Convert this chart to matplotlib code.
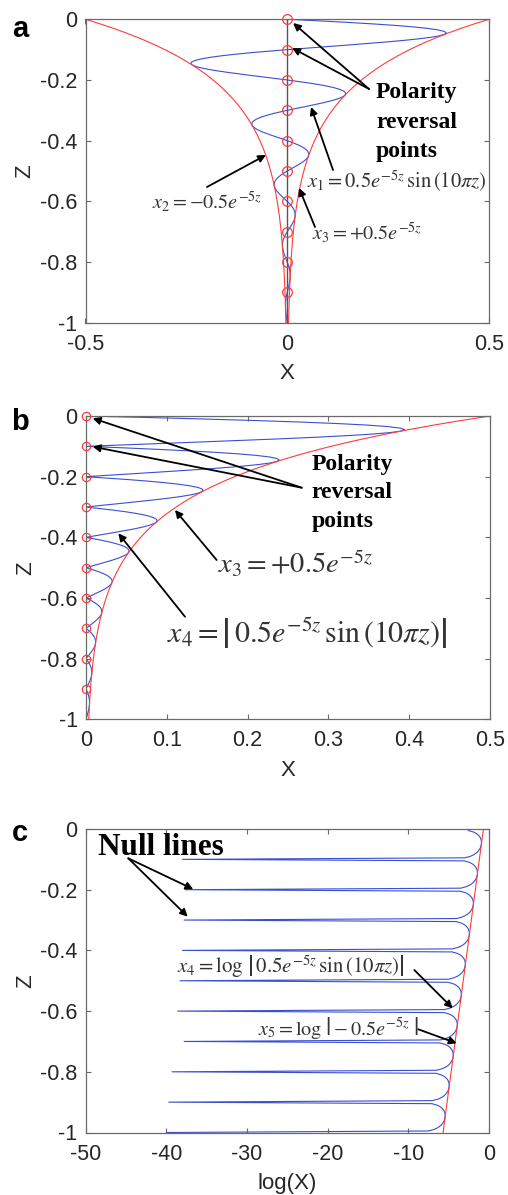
import numpy as np
import matplotlib
matplotlib.use('Agg')
import matplotlib.pyplot as plt

plt.rcParams['font.family'] = ['Liberation Sans', 'DejaVu Sans']
plt.rcParams['mathtext.fontset'] = 'stix'

# ---- values ----
amplitude = 0.5          # envelope value at z = 0
decay = 5.0              # exponent factor in e^{-5z}
wavenumber = 10 * np.pi  # sin(10*pi*z)
depth_step = 0.005       # sampling step of the plotted curves

reversal_z = [0, -0.1, -0.2, -0.3, -0.4, -0.5, -0.6, -0.7, -0.8, -0.9]
null_z = [-0.1, -0.2, -0.3, -0.4, -0.5, -0.6, -0.7, -0.8, -0.9, -1.0]
null_logx = [-38.0, -37.7, -37.8, -38.0, -38.3, -38.6, -37.8, -39.3, -39.7, -40.0]

z_ticks = [-1, -0.8, -0.6, -0.4, -0.2, 0]
z_ticklabels = ['-1', '-0.8', '-0.6', '-0.4', '-0.2', '0']
a_xticks = [-0.5, 0, 0.5]
a_xticklabels = ['-0.5', '0', '0.5']
b_xticks = [0, 0.1, 0.2, 0.3, 0.4, 0.5]
b_xticklabels = ['0', '0.1', '0.2', '0.3', '0.4', '0.5']
c_xticks = [-50, -40, -30, -20, -10, 0]
c_xticklabels = ['-50', '-40', '-30', '-20', '-10', '0']

# ---- curves ----
n_pts = int(round(1.0 / depth_step)) + 1
d = np.linspace(0, 1, n_pts)
z = -d
envelope = amplitude * np.exp(-decay * d)
x1 = envelope * np.sin(wavenumber * d)
x4 = np.abs(x1)
with np.errstate(divide='ignore'):
    logx4 = np.log(x4)
logx4[0] = np.nan
for zz, v in zip(null_z, null_logx):
    logx4[int(round(-zz / depth_step))] = v
logenv = np.log(envelope)

BLUE = '#3a4fd0'
RED = '#ff3b3b'
SPINE = '#6a6a6a'
TXT = '#262626'

W, H = 508, 1195
fig = plt.figure(figsize=(W / 100, H / 100), dpi=100)

def axes_px(left, top, right, bottom):
    return fig.add_axes([left / W, 1 - bottom / H, (right - left) / W, (bottom - top) / H])

axA = axes_px(85.5, 19.3, 489, 322.7)
axB = axes_px(86, 416, 490, 719.3)
axC = axes_px(85.7, 829, 489, 1132.5)

def style(ax, xticks, xticklabels, xlim, xlabel):
    ax.set_xlim(*xlim)
    ax.set_ylim(-1, 0)
    ax.set_xticks(xticks)
    ax.set_xticklabels(xticklabels)
    ax.set_yticks(z_ticks)
    ax.set_yticklabels(z_ticklabels)
    ax.tick_params(direction='in', length=3.5, width=0.8, color=SPINE,
                   top=True, right=True, labelsize=15.5, labelcolor=TXT)
    ax.tick_params(axis='x', pad=8)
    ax.tick_params(axis='y', pad=6)
    for s in ax.spines.values():
        s.set_color(SPINE)
        s.set_linewidth(0.9)
    ax.set_xlabel(xlabel, fontsize=16, color=TXT, labelpad=6)
    ax.set_ylabel('Z', fontsize=16, color=TXT, labelpad=3)

def arrow(ax, tail, head):
    ax.annotate('', xy=head, xytext=tail,
                arrowprops=dict(arrowstyle='-|>', color='k', lw=1.3,
                                mutation_scale=11, shrinkA=0, shrinkB=0))

mtxt = dict(color='#333333', ha='left', va='baseline')
btxt = dict(family='Liberation Serif', weight='bold', color='k', ha='left', va='baseline')

# ---- panel a ----
ax = axA
ax.plot([0, 0], [0, -1], color='#555555', lw=1.0)
ax.plot(x1, z, color=BLUE, lw=0.8)
ax.plot(-envelope, z, color=RED, lw=0.8)
ax.plot(envelope, z, color=RED, lw=0.8)
ax.plot(np.zeros(len(reversal_z)), reversal_z, 'o', mfc='none', mec=RED, ms=7, mew=0.9,
        clip_on=False, zorder=5)
style(ax, a_xticks, a_xticklabels, (-0.5, 0.5), 'X')
for t, zz in zip(['Polarity', 'reversal', 'points'], [-0.2594, -0.3583, -0.4539]):
    ax.text(0.220, zz, t, fontsize=17, **btxt)
arrow(ax, (0.2026, -0.2297), (0.0146, -0.0122))
arrow(ax, (0.2026, -0.2297), (0.0121, -0.0946))
ax.text(0.0489, -0.5573, r'$x_1 = 0.5e^{-5z}\,\sin\left(10\pi z\right)$', fontsize=14.8, **mtxt)
arrow(ax, (0.1134, -0.4967), (0.0589, -0.2890))
ax.text(-0.3352, -0.6253, r'$x_2 = -0.5e^{-5z}$', fontsize=14.5, **mtxt)
arrow(ax, (-0.1989, -0.5527), (-0.0527, -0.4473))
ax.text(0.0613, -0.7274, r'$x_3 = +0.5e^{-5z}$', fontsize=14.5, **mtxt)
arrow(ax, (0.0688, -0.6845), (0.0291, -0.5560))

# ---- panel b ----
ax = axB
ax.plot(x4, z, color=BLUE, lw=0.8)
ax.plot(envelope, z, color=RED, lw=0.8)
ax.plot(np.zeros(len(reversal_z)), reversal_z, 'o', mfc='none', mec=RED, ms=6, mew=0.9,
        clip_on=False, zorder=5)
style(ax, b_xticks, b_xticklabels, (0, 0.5), 'X')
for t, zz in zip(['Polarity', 'reversal', 'points'], [-0.178, -0.2704, -0.366]):
    ax.text(0.2793, zz, t, fontsize=17, **btxt)
arrow(ax, (0.267, -0.2364), (0.0083, -0.0076))
arrow(ax, (0.267, -0.2364), (0.0083, -0.1012))
ax.text(0.1634, -0.5176, r'$x_3 = +0.5e^{-5z}$', fontsize=20.5, **mtxt)
arrow(ax, (0.1617, -0.4748), (0.1101, -0.3099))
ax.text(0.1002, -0.7484, r'$x_4 = \left|\,0.5e^{-5z}\,\sin\left(10\pi z\right)\right|$', fontsize=21.5, **mtxt)
arrow(ax, (0.1225, -0.6617), (0.040, -0.3868))

# ---- panel c ----
ax = axC
ax.plot(logx4, z, color=BLUE, lw=0.8)
ax.plot(logenv, z, color=RED, lw=0.8)
style(ax, c_xticks, c_xticklabels, (-50, 0), 'log(X)')
ax.text(-48.51, -0.0857, 'Null lines', fontsize=22.5, **btxt)
arrow(ax, (-44.72, -0.0966), (-36.66, -0.1984))
arrow(ax, (-44.72, -0.0966), (-37.35, -0.2889))
ax.text(-38.72, -0.4745, r'$x_4 = \log\,\left|\,0.5e^{-5z}\,\sin\left(10\pi z\right)\right|$', fontsize=15, **mtxt)
arrow(ax, (-9.26, -0.4646), (-4.50, -0.5908))
ax.text(-28.60, -0.6787, r'$x_5 = \log\,\left|-0.5e^{-5z}\,\,\right|$', fontsize=14.5, **mtxt)
arrow(ax, (-8.77, -0.660), (-4.0, -0.706))

# panel letters
for lab, y in [('a', 29), ('b', 422), ('c', 833)]:
    fig.text(20 / W, 1 - y / H, lab, fontsize=21, weight='bold', ha='center', va='center',
             family='Liberation Sans')

fig.savefig('out.png', dpi=100)
